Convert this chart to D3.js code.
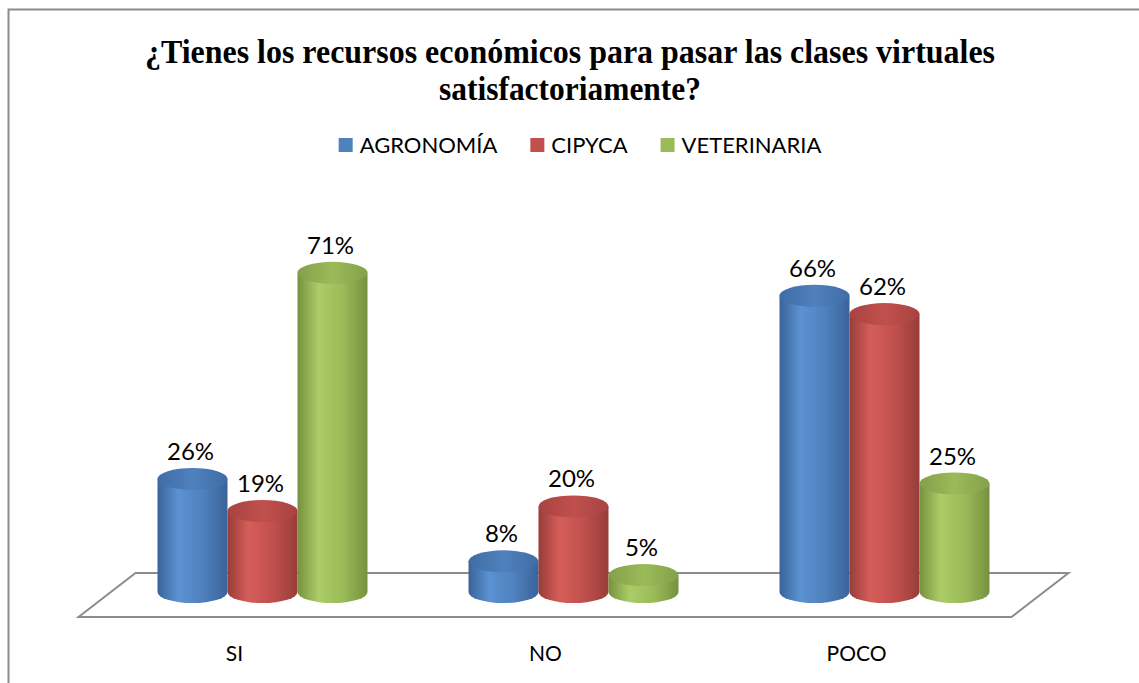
<!doctype html>
<html>
<head>
  <meta charset="utf-8">
  <title>Recursos económicos</title>
  <script src="https://cdn.jsdelivr.net/npm/d3@7"></script>
  <style>
    body { margin: 0; background: #fff; }
    svg { display: block; }
    .lbl { font-family: Lato, 'Noto Sans', sans-serif; fill: #000; }
  </style>
</head>
<body>
  <svg width="1139" height="683"></svg>
  <script>
    // data
    var categories = ["SI", "NO", "POCO"];
    var series = ["AGRONOMÍA", "CIPYCA", "VETERINARIA"];
    var agronomia = [26, 8, 66];
    var cipyca = [19, 20, 62];
    var veterinaria = [71, 5, 25];
    var titleLines = ["¿Tienes los recursos económicos para pasar las clases virtuales", "satisfactoriamente?"];

    var values = [agronomia, cipyca, veterinaria];
    var colors = [
      { dark: "#3a6399", light: "#5b92d2", base: "#4f81bd", top: "#3f6ca6" },
      { dark: "#973d3a", light: "#d65d59", base: "#c0504d", top: "#a84341" },
      { dark: "#77913f", light: "#abcc67", base: "#9bbb59", top: "#84a049" }
    ];

    var svg = d3.select("svg");
    var defs = svg.append("defs");

    colors.forEach(function (c, i) {
      var g = defs.append("linearGradient").attr("id", "cyl" + i)
        .attr("x1", "0%").attr("x2", "100%").attr("y1", "0%").attr("y2", "0%");
      g.append("stop").attr("offset", "0%").attr("stop-color", c.dark);
      g.append("stop").attr("offset", "30%").attr("stop-color", c.light);
      g.append("stop").attr("offset", "65%").attr("stop-color", c.base);
      g.append("stop").attr("offset", "100%").attr("stop-color", c.dark);
      var t = defs.append("linearGradient").attr("id", "top" + i)
        .attr("x1", "0%").attr("x2", "100%").attr("y1", "0%").attr("y2", "0%");
      t.append("stop").attr("offset", "0%").attr("stop-color", c.top);
      t.append("stop").attr("offset", "50%").attr("stop-color", c.base);
      t.append("stop").attr("offset", "100%").attr("stop-color", c.top);
    });

    // outer frame (chart area border runs off the picture)
    svg.append("rect")
      .attr("x", 8.5).attr("y", 9.5).attr("width", 1200).attr("height", 800)
      .attr("fill", "none").attr("stroke", "#8c8c8c").attr("stroke-width", 2);

    // title
    svg.append("g").selectAll("text")
      .data(titleLines)
      .enter().append("text")
      .attr("x", 570)
      .attr("y", (d, i) => 63 + i * 37)
      .attr("text-anchor", "middle")
      .style("font-family", "'Liberation Serif', 'Times New Roman', serif")
      .style("font-weight", "bold")
      .style("font-size", "33px")
      .attr("textLength", (d, i) => i == 0 ? 850 : 262)
      .attr("lengthAdjust", "spacingAndGlyphs")
      .text(d => d);

    // legend
    var legend = svg.append("g");
    var lx = 0;
    series.forEach(function (s, i) {
      var item = legend.append("g").attr("transform", "translate(" + lx + ",0)");
      item.append("rect").attr("x", 0).attr("y", 138).attr("width", 14).attr("height", 14)
        .attr("fill", colors[i].base);
      var t = item.append("text").attr("class", "lbl").attr("x", 21).attr("y", 153)
        .style("font-size", "22px").text(s);
      lx += 21 + t.node().getComputedTextLength() + 33;
    });
    legend.attr("transform", "translate(" + (580 - (lx - 33) / 2) + ",0)");

    // scales
    var x0 = d3.scaleBand().domain(categories).range([107, 1040]);
    var x1 = d3.scaleBand().domain(series).range([0, 210]);
    var pad = (x0.bandwidth() - 210) / 2;
    var y = d3.scaleLinear().domain([0, 100]).range([598, 140]);
    var rx = x1.bandwidth() / 2, ry = 11;
    var floorY = 592;

    // floor (back edge behind the cylinders)
    var fl = x0.range()[0], fr = x0.range()[1], fc = 595, dx = 28.5, dy = 22;
    svg.append("path")
      .attr("d", "M" + (fl - dx) + "," + (fc + dy) + "L" + (fl + dx) + "," + (fc - dy) +
        "L" + (fr + dx) + "," + (fc - dy) + "L" + (fr - dx) + "," + (fc + dy) + "Z")
      .attr("fill", "none").attr("stroke", "#8c8c8c").attr("stroke-width", 2);

    var rows = [];
    categories.forEach(function (c, ci) {
      series.forEach(function (s, si) {
        rows.push({ cat: c, ser: s, si: si, v: values[si][ci] });
      });
    });

    var bars = svg.append("g").selectAll("g")
      .data(rows)
      .enter().append("g")
      .attr("transform", d => "translate(" + (x0(d.cat) + pad + x1(d.ser) + rx) + ",0)");

    bars.append("path")
      .attr("d", function (d) {
        var yt = y(d.v);
        return "M" + (-rx) + "," + yt + "L" + (-rx) + "," + floorY +
          "A" + rx + "," + ry + " 0 0 0 " + rx + "," + floorY +
          "L" + rx + "," + yt + "Z";
      })
      .attr("fill", d => "url(#cyl" + d.si + ")");

    bars.append("ellipse")
      .attr("cx", 0).attr("cy", d => y(d.v))
      .attr("rx", rx).attr("ry", ry)
      .attr("fill", d => "url(#top" + d.si + ")");

    bars.append("text")
      .attr("class", "lbl")
      .attr("x", -2)
      .attr("y", d => y(d.v) - 19)
      .attr("text-anchor", "middle")
      .style("font-size", "24px")
      .text(d => d.v + "%");

    // category labels
    svg.append("g").selectAll("text")
      .data(categories)
      .enter().append("text")
      .attr("class", "lbl")
      .attr("x", d => x0(d) + x0.bandwidth() / 2 - 28)
      .attr("y", 661)
      .attr("text-anchor", "middle")
      .style("font-size", "21px")
      .text(d => d);
  </script>
</body>
</html>
